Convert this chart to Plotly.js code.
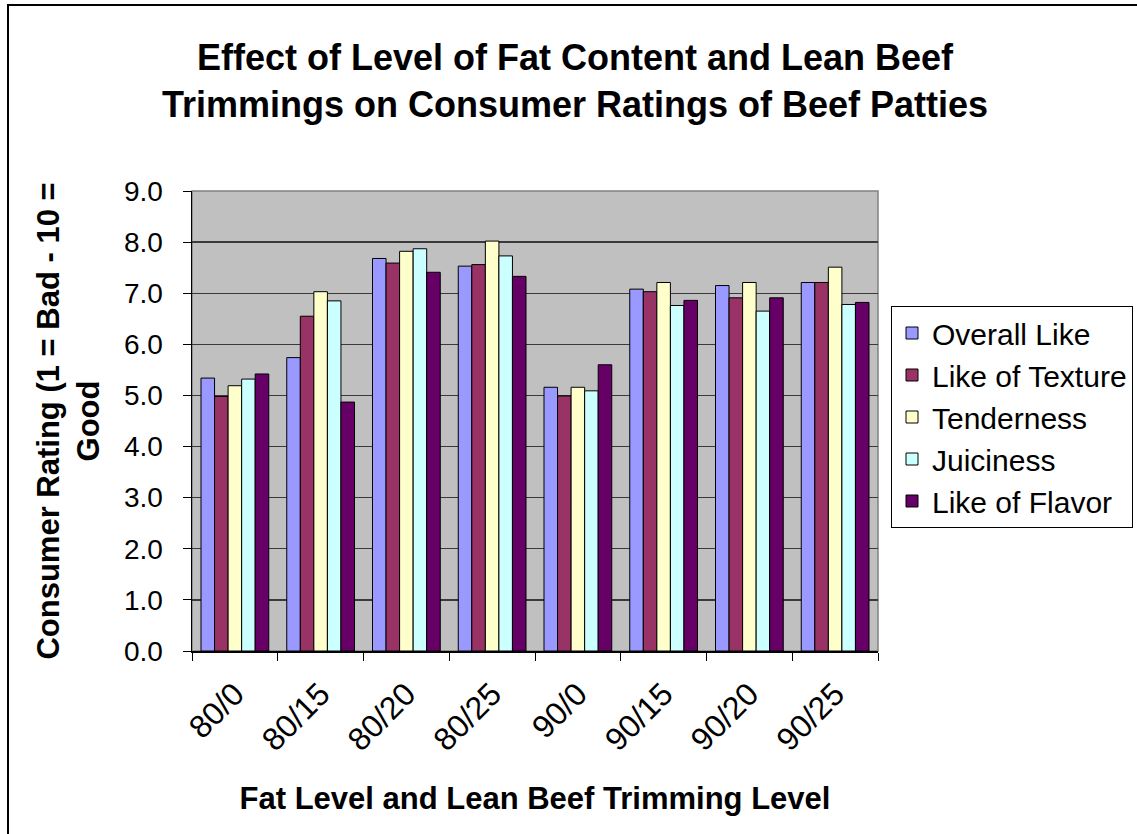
<!DOCTYPE html>
<html>
<head>
<meta charset="utf-8">
<script src="https://cdn.plot.ly/plotly-3.0.1.min.js"></script>
<style>
html,body{margin:0;padding:0;background:#fff;}
#chart{width:1137px;height:834px;}
</style>
</head>
<body>
<div id="chart"></div>
<script>
var categories = ["80/0", "80/15", "80/20", "80/25", "90/0", "90/15", "90/20", "90/25"];
var seriesNames = ["Overall Like", "Like of Texture", "Tenderness", "Juiciness", "Like of Flavor"];
var overallLike = [5.34, 5.74, 7.68, 7.53, 5.16, 7.08, 7.15, 7.21];
var likeOfTexture = [4.98, 6.55, 7.59, 7.56, 4.99, 7.03, 6.91, 7.21];
var tenderness = [5.19, 7.03, 7.82, 8.02, 5.16, 7.21, 7.21, 7.51];
var juiciness = [5.32, 6.85, 7.87, 7.73, 5.09, 6.76, 6.65, 6.78];
var likeOfFlavor = [5.42, 4.87, 7.41, 7.33, 5.60, 6.86, 6.91, 6.82];
var yTickVals = [0, 1, 2, 3, 4, 5, 6, 7, 8, 9];
var yTickText = ["0.0", "1.0", "2.0", "3.0", "4.0", "5.0", "6.0", "7.0", "8.0", "9.0"];

var colors = ["#9999FF", "#993366", "#FFFFCC", "#CCFFFF", "#660066"];
var values = [overallLike, likeOfTexture, tenderness, juiciness, likeOfFlavor];

var FONT = "Arial, 'Liberation Sans', sans-serif";

var traces = values.map(function (v, i) {
  return {
    type: "bar",
    name: seriesNames[i],
    x: categories,
    y: v,
    legendgroup: "g" + i,
    marker: {color: colors[i], line: {color: "#000000", width: 1}},
    hoverinfo: "x+y+name"
  };
});

// plot area in pixels
var L = 192, R = 878, T = 191, B = 651;
var W = 1137, H = 834;
function px(x) { return (x - L) / (R - L); }
function py(y) { return (B - y) / (B - T); }

var layout = {
  width: W,
  height: H,
  paper_bgcolor: "#ffffff",
  plot_bgcolor: "#C0C0C0",
  font: {family: FONT, color: "#000000"},
  margin: {l: L, r: W - R, t: T, b: H - B, pad: 0, autoexpand: false},
  barmode: "group",
  bargap: 0.21,
  bargroupgap: 0,
  title: {
    text: "<b>Effect of Level of Fat Content and Lean Beef<br>Trimmings on Consumer Ratings of Beef Patties</b>",
    font: {family: FONT, size: 36, color: "#000000"},
    x: 575 / W,
    xanchor: "center",
    y: 1 - 70 / H,
    yanchor: "top"
  },
  xaxis: {
    type: "category",
    tickangle: -45,
    tickson: "boundaries",
    ticks: "outside",
    ticklen: 8,
    tickcolor: "#000000",
    tickwidth: 1,
    showline: true,
    linecolor: "#000000",
    linewidth: 1.5,
    showgrid: false,
    tickfont: {family: FONT, size: 32, color: "#000000"},
    ticklabelstandoff: 10,
    automargin: false,
    title: {
      text: "<b>Fat Level and Lean Beef Trimming Level</b>",
      font: {family: FONT, size: 31, color: "#000000"},
      standoff: 30
    }
  },
  yaxis: {
    range: [0, 9],
    tickmode: "array",
    tickvals: yTickVals,
    ticktext: yTickText,
    ticks: "outside",
    ticklen: 8,
    tickcolor: "#000000",
    showline: true,
    linecolor: "#000000",
    linewidth: 1.5,
    showgrid: true,
    gridcolor: "#3a3a3a",
    gridwidth: 1.3,
    zeroline: false,
    tickfont: {family: FONT, size: 28, color: "#000000"},
    ticklabelstandoff: 14,
    automargin: false,
    title: {
      text: "<b>Consumer Rating (1 = Bad - 10 =<br>Good</b>",
      font: {family: FONT, size: 31, color: "#000000"},
      standoff: 15
    }
  },
  legend: {
    xref: "container",
    yref: "container",
    x: 891 / W,
    xanchor: "left",
    y: 1 - 306 / H,
    yanchor: "top",
    bgcolor: "#ffffff",
    bordercolor: "#000000",
    borderwidth: 1,
    font: {family: FONT, size: 30, color: "#000000"},
    tracegroupgap: 5,
    traceorder: "normal"
  },
  shapes: [
    {type: "rect", xref: "paper", yref: "paper", x0: 0, x1: 1, y0: 0, y1: 1,
     line: {color: "#808080", width: 1.5}, layer: "below"},
    {type: "rect", xref: "paper", yref: "paper",
     x0: px(8), x1: px(1145), y0: py(845), y1: py(5),
     line: {color: "#000000", width: 2}}
  ]
};

Plotly.newPlot("chart", traces, layout, {displayModeBar: false, staticPlot: true});
</script>
</body>
</html>
